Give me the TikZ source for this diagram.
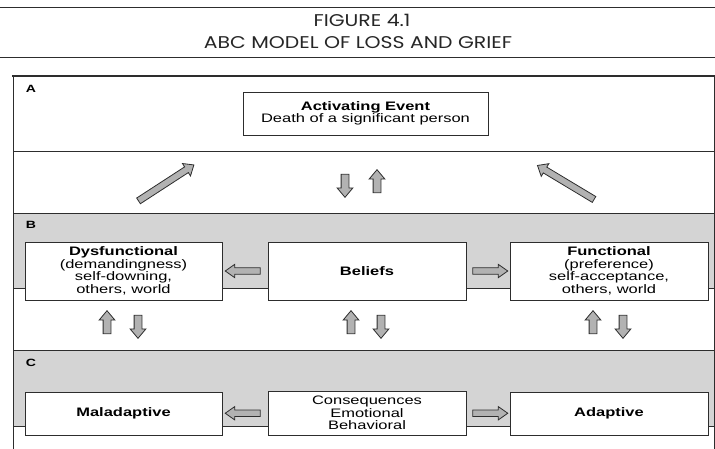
\documentclass[tikz,border=0pt]{standalone}
\usepackage{fontspec}
\usetikzlibrary{shapes.arrows,calc}
\newfontfamily\boxfont{Liberation Sans}[FakeStretch=1.34]
\newfontfamily\titlefont{Poppins}[FakeStretch=1.2]
\definecolor{bandgrey}{RGB}{212,212,212}
\definecolor{arrowgrey}{RGB}{178,178,178}
\definecolor{linegrey}{RGB}{45,45,45}

\begin{document}
\begin{tikzpicture}[
    x=1pt, y=-1pt,
    every node/.style={inner sep=0pt},
    title/.style={font=\titlefont\fontsize{17}{17}\selectfont, text=black!85},
    seclabel/.style={font=\boxfont\bfseries\fontsize{10.5}{10.5}\selectfont},
    textbox/.style={draw=linegrey, fill=white, line width=0.9pt, align=center,
        font=\boxfont\fontsize{12.3}{12.5}\selectfont},
    band/.style={draw=linegrey, fill=bandgrey, line width=0.8pt},
    varrow/.style={shape=single arrow, draw=linegrey, fill=arrowgrey, line width=0.8pt,
        inner ysep=3.5pt, inner xsep=0pt, single arrow head extend=4pt,
        single arrow head indent=0pt, single arrow tip angle=80, minimum height=23pt},
    harrow/.style={varrow, inner ysep=2.8pt, single arrow head extend=3.5pt,
        single arrow tip angle=70, minimum height=35pt},
    darrow/.style={varrow, inner ysep=3pt, single arrow head extend=4pt,
        minimum height=66pt}
]
\useasboundingbox (0,0) rectangle (715,448);

% title
\draw[linegrey, line width=0.8pt] (0,7) -- (715,7);
\node[title] (fig) at (362,20) {FIGURE 4.1};
\node[title] (sub) at (358,43) {ABC MODEL OF LOSS AND GRIEF};
\draw[linegrey, line width=0.8pt] (0,57) -- (715,57);

% frame and bands
\draw[linegrey, line width=0.8pt] (13,76) -- (714,76) -- (714,151) -- (13,151) -- cycle;
\draw[band] (13,213) rectangle (714,288);
\draw[band] (13,350) rectangle (714,426);
\draw[linegrey, line width=1.8pt] (12,76) -- (715,76);
\draw[linegrey, line width=0.9pt] (13,76) -- (13,449);
\draw[linegrey, line width=0.9pt] (714,76) -- (714,449);

\node[seclabel] (labA) at (31,89) {A};
\node[seclabel] (labB) at (31,225) {B};
\node[seclabel] (labC) at (31,363) {C};

% boxes
\node[textbox, minimum width=245pt, minimum height=43pt] (ev) at (365.5,113.5)
    {\textbf{Activating Event}\\Death of a significant person};
\node[textbox, minimum width=197pt, minimum height=58pt] (dysf) at (123.5,271)
    {\textbf{Dysfunctional}\\(demandingness)\\self-downing,\\others, world};
\node[textbox, minimum width=198pt, minimum height=58pt] (beliefs) at (367,271)
    {\textbf{Beliefs}};
\node[textbox, minimum width=198pt, minimum height=58pt] (func) at (609,271)
    {\textbf{Functional}\\(preference)\\self-acceptance,\\others, world};
\node[textbox, minimum width=197pt, minimum height=43pt] (malad) at (123.5,413.5)
    {\textbf{Maladaptive}};
\node[textbox, minimum width=198pt, minimum height=44pt] (conseq) at (367,413)
    {Consequences\\Emotional\\Behavioral};
\node[textbox, minimum width=198pt, minimum height=43pt] (adapt) at (609,413.5)
    {\textbf{Adaptive}};

% block arrows
\node[darrow, rotate=33] (upL) at (164.5,184) {};
\node[darrow, rotate=149] (upR) at (567.5,183.5) {};
\node[varrow, rotate=-90] (evdown) at (345,183.5) {};
\node[varrow, rotate=90] (evup) at (377,183.5) {};

\node[harrow, rotate=180] (toDysf) at ($(beliefs.west)!0.5!(dysf.east)$) {};
\node[harrow] (toFunc) at ($(beliefs.east)!0.5!(func.west)$) {};
\node[harrow, rotate=180] (toMalad) at ($(conseq.west)!0.5!(malad.east)$) {};
\node[harrow] (toAdapt) at ($(conseq.east)!0.5!(adapt.west)$) {};

\node[varrow, rotate=90] (upDL) at (107,324.5) {};
\node[varrow, rotate=-90] (downDL) at (138,324.5) {};
\node[varrow, rotate=90] (upDC) at (351,324.5) {};
\node[varrow, rotate=-90] (downDC) at (381,324.5) {};
\node[varrow, rotate=90] (upDR) at (593,324.5) {};
\node[varrow, rotate=-90] (downDR) at (623,324.5) {};
\end{tikzpicture}
\end{document}
